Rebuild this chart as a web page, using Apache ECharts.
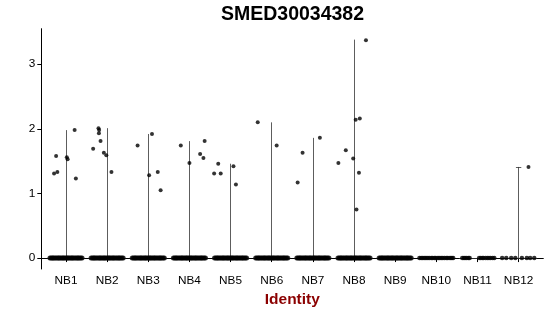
<!DOCTYPE html>
<html><head><meta charset="utf-8">
<script src="https://cdn.jsdelivr.net/npm/echarts@6/dist/echarts.min.js"></script>
<style>html,body{margin:0;padding:0;background:#fff}#c{width:550px;height:316px}</style>
</head><body><div id="c"></div>
<script>
const categories = ['NB1','NB2','NB3','NB4','NB5','NB6','NB7','NB8','NB9','NB10','NB11','NB12'];
const yTicks = [0, 1, 2, 3];
const violinTop = [1.98, 2.01, 1.92, 1.81, 1.46, 2.10, 1.86, 3.38, 0, 0, 0, 1.41];
const violinCap = [0, 0, 0, 0, 0, 0, 0, 0, 0, 0, 0, 0.065];

// expressed cells: [jitter offset, expression]
const nb1Expr = [[-0.24,1.58],[-0.29,1.31],[-0.21,1.33],[0.02,1.56],[0.04,1.53],[0.21,1.98],[0.24,1.23]];
const nb2Expr = [[-0.21,2.01],[-0.195,1.98],[-0.20,1.93],[-0.16,1.81],[-0.34,1.69],[-0.08,1.63],[-0.02,1.59],[0.105,1.33]];
const nb3Expr = [[-0.26,1.74],[0.09,1.92],[0.02,1.28],[0.23,1.33],[0.30,1.05]];
const nb4Expr = [[-0.21,1.74],[0.00,1.47],[0.37,1.81],[0.26,1.61],[0.34,1.55]];
const nb5Expr = [[-0.30,1.46],[-0.40,1.31],[-0.24,1.31],[0.07,1.42],[0.13,1.14]];
const nb6Expr = [[-0.34,2.10],[0.12,1.74]];
const nb7Expr = [[-0.25,1.63],[-0.37,1.17],[0.17,1.86]];
const nb8Expr = [[0.29,3.37],[0.04,2.14],[0.14,2.16],[-0.20,1.67],[-0.38,1.47],[-0.02,1.54],[0.12,1.32],[0.06,0.75]];
const nb9Expr = [];
const nb10Expr = [];
const nb11Expr = [];
const nb12Expr = [[0.24,1.41]];
const expressed = [nb1Expr,nb2Expr,nb3Expr,nb4Expr,nb5Expr,nb6Expr,nb7Expr,nb8Expr,nb9Expr,nb10Expr,nb11Expr,nb12Expr];

// jitter offsets of the zero-expression cells
const denseZeroJitter = [-0.39,-0.36,-0.33,-0.31,-0.28,-0.25,-0.22,-0.19,-0.17,-0.14,-0.11,-0.08,-0.06,-0.03,0.00,0.03,0.05,0.08,0.11,0.14,0.16,0.19,0.22,0.25,0.28,0.30,0.33,0.36,0.39];
const nb10ZeroJitter = [-0.41,-0.37,-0.34,-0.30,-0.27,-0.23,-0.20,-0.16,-0.12,-0.09,-0.05,-0.02,0.02,0.06,0.09,0.13,0.16,0.20,0.24,0.27,0.31,0.35,0.38,0.41];
const nb11ZeroJitter = [-0.37,-0.33,-0.30,-0.26,-0.22,-0.19,0.04,0.08,0.12,0.15,0.20,0.24,0.28,0.32,0.37,0.41];
const nb12ZeroJitter = [-0.40,-0.30,-0.18,-0.08,0.08,0.20,0.28,0.38];
const zeroJitter = [denseZeroJitter,denseZeroJitter,denseZeroJitter,denseZeroJitter,denseZeroJitter,denseZeroJitter,denseZeroJitter,denseZeroJitter,denseZeroJitter,nb10ZeroJitter,nb11ZeroJitter,nb12ZeroJitter];

const violinSegs = [];
categories.forEach((c, i) => {
  const x = i + 1;
  violinSegs.push({coords: [[x - 0.45, 0], [x + 0.45, 0]]});
  if (violinTop[i] > 0) violinSegs.push({coords: [[x, 0], [x, violinTop[i]]]});
  if (violinCap[i] > 0) violinSegs.push({coords: [[x - violinCap[i], violinTop[i]], [x + violinCap[i], violinTop[i]]]});
});
const exprPts = [];
expressed.forEach((arr, i) => arr.forEach(p => exprPts.push([i + 1 + p[0], p[1]])));
const zeroDense = [], zeroSparse = [];
zeroJitter.forEach((arr, i) => arr.forEach(o => (i < 9 ? zeroDense : zeroSparse).push([i + 1 + o, 0])));

const chart = echarts.init(document.getElementById('c'), null, {renderer: 'canvas'});
chart.setOption({
  animation: false,
  backgroundColor: '#ffffff',
  title: {
    text: 'SMED30034382', left: 292.5, top: 5, padding: 0, textAlign: 'center',
    textStyle: {fontFamily: 'Liberation Sans', fontWeight: 'bold', fontSize: 19.5, color: '#000'}
  },
  grid: {left: 41.3, right: 6.7, top: 28.7, bottom: 47, containLabel: false},
  xAxis: {
    type: 'value', min: 0.4, max: 12.6,
    name: 'Identity', nameLocation: 'middle', nameGap: 23,
    nameTextStyle: {fontFamily: 'Liberation Sans', fontWeight: 'bold', fontSize: 15.5, color: '#8b0000'},
    axisLine: {show: true, lineStyle: {color: '#000', width: 1}},
    axisTick: {show: true, length: 4, lineStyle: {color: '#000'}, customValues: categories.map((c, i) => i + 1)},
    axisLabel: {customValues: categories.map((c, i) => i + 1), formatter: v => categories[Math.round(v) - 1],
      fontFamily: 'Liberation Sans', fontSize: 11.8, color: '#000', margin: 6},
    splitLine: {show: false}
  },
  yAxis: {
    type: 'value', min: -0.169, max: 3.549,
    axisLine: {show: true, lineStyle: {color: '#000', width: 1}},
    axisTick: {show: true, length: 4, lineStyle: {color: '#000'}, customValues: yTicks},
    axisLabel: {customValues: yTicks, fontFamily: 'Liberation Sans', fontSize: 11.8, color: '#000', margin: 6},
    splitLine: {show: false}
  },
  series: [
    {type: 'lines', coordinateSystem: 'cartesian2d', data: violinSegs, silent: true,
     lineStyle: {color: '#333', width: 0.8, opacity: 1}},
    {type: 'scatter', data: zeroDense, symbolSize: 5, itemStyle: {color: '#000'}, silent: true},
    {type: 'scatter', data: zeroSparse, symbolSize: 4.5, itemStyle: {color: '#000'}, silent: true},
    {type: 'scatter', data: exprPts, symbolSize: 4, itemStyle: {color: '#000'}, silent: true}
  ]
});
</script></body></html>
